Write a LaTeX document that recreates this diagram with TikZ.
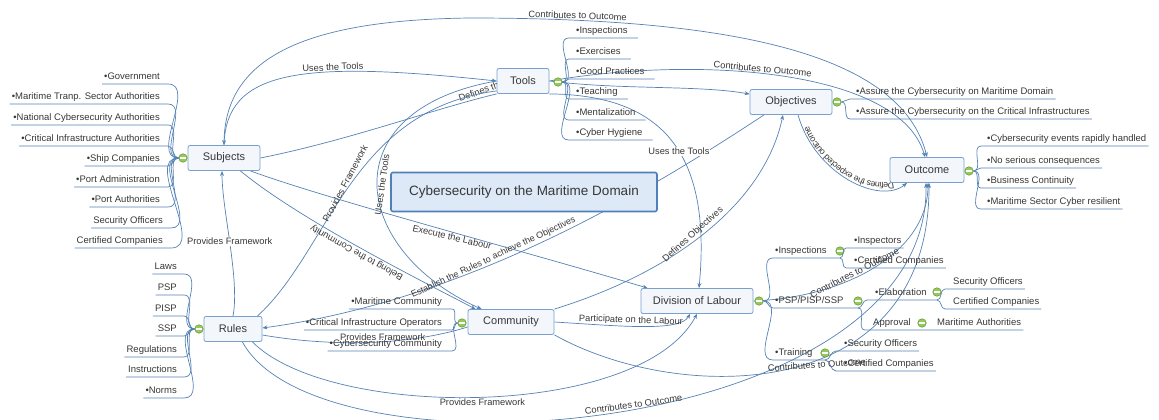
\documentclass[tikz,border=0pt]{standalone}
\usepackage{fontspec}
\setmainfont{Liberation Sans}
\usetikzlibrary{arrows.meta,backgrounds,decorations.text}

\definecolor{linkc}{RGB}{84,130,180}
\definecolor{topicfill}{RGB}{243,247,252}
\definecolor{topicline}{RGB}{120,160,205}
\definecolor{corefill}{RGB}{221,233,246}
\definecolor{coreline}{RGB}{80,128,186}
\definecolor{txt}{RGB}{55,55,55}
\definecolor{foldfill}{RGB}{150,200,90}
\definecolor{foldline}{RGB}{95,150,45}
\newcommand\lblfont{\fontsize{9.3}{11}\selectfont}

\begin{document}
\begin{tikzpicture}[x=1pt, y=-1pt,
  topic/.style={draw=topicline, fill=topicfill, rounded corners=2pt, line width=0.8pt, font=\fontsize{11}{13}\selectfont, text=txt, minimum height=25pt, inner xsep=4pt},
  coretopic/.style={draw=coreline, fill=corefill, rounded corners=2pt, line width=1.6pt, font=\fontsize{13.5}{16}\selectfont, text=txt},
  leaf/.style={font=\fontsize{9.5}{11}\selectfont, text=txt, inner xsep=2pt, inner ysep=2pt, text height=7pt, text depth=2pt},
  fold/.style={circle, draw=foldline, fill=foldfill, minimum size=8.5pt, inner sep=0pt, line width=0.5pt,
    path picture={\draw[white, line width=1.2pt] ([xshift=1.6pt]path picture bounding box.west) -- ([xshift=-1.6pt]path picture bounding box.east);}},
  twig/.style={draw=linkc, line width=0.7pt},
  rel/.style={draw=linkc, line width=0.7pt},
  relarrow/.style={-{Stealth[length=5pt,width=4pt]}},
  relboth/.style={{Stealth[length=5pt,width=4pt]}-{Stealth[length=5pt,width=4pt]}},
  lbl/.style={font=\lblfont, text=txt, inner sep=1pt}]
\useasboundingbox (0,0) rectangle (1159,420);

\node[topic, minimum width=52pt] (tools) at (523,81) {Tools};
\node[topic, minimum width=72pt] (subj) at (224,158) {Subjects};
\node[topic, minimum width=82pt] (obj) at (791,102) {Objectives};
\node[topic, minimum width=74pt] (outc) at (927,170) {Outcome};
\node[topic, minimum width=58pt] (rules) at (233,329) {Rules};
\node[topic, minimum width=86pt] (comm) at (511,322) {Community};
\node[topic, minimum width=112pt] (div) at (697,301) {Division of Labour};
\node[coretopic, minimum width=266pt, minimum height=39pt] (core) at (524,192) {Cybersecurity on the Maritime Domain};

\node[fold] (sf) at (183,158) {};
\node[fold] (rf) at (199,329) {};
\node[fold] (tf) at (558,82) {};
\node[fold] (of) at (837,102) {};
\node[fold] (uf) at (969,171) {};
\node[fold] (cf) at (462,323) {};
\node[fold] (df) at (759,301) {};

\node[leaf, anchor=south east] (s1) at (162,84) {•Government};
\node[leaf, anchor=south east] (s2) at (162,104) {•Maritime Tranp. Sector Authorities};
\node[leaf, anchor=south east] (s3) at (162,125) {•National Cybersecurity Authorities};
\node[leaf, anchor=south east] (s4) at (162,146) {•Critical Infrastructure Authorities};
\node[leaf, anchor=south east] (s5) at (162,166) {•Ship Companies};
\node[leaf, anchor=south east] (s6) at (162,187) {•Port Administration};
\node[leaf, anchor=south east] (s7) at (162,207) {•Port Authorities};
\node[leaf, anchor=south east] (s8) at (165,228) {Security Officers};
\node[leaf, anchor=south east] (s9) at (165,248) {Certified Companies};
\foreach \i in {1,...,9} \draw[twig] (sf.west) to[out=180,in=0] ([xshift=6pt]s\i.south east) -- (s\i.south west);

\node[leaf, anchor=south east] (r1) at (179,274) {Laws};
\node[leaf, anchor=south east] (r2) at (179,295) {PSP};
\node[leaf, anchor=south east] (r3) at (179,316) {PISP};
\node[leaf, anchor=south east] (r4) at (179,336) {SSP};
\node[leaf, anchor=south east] (r5) at (179,357) {Regulations};
\node[leaf, anchor=south east] (r6) at (179,377) {Instructions};
\node[leaf, anchor=south east] (r7) at (179,398) {•Norms};
\foreach \i in {1,...,7} \draw[twig] (rf.west) to[out=180,in=0] ([xshift=5pt]r\i.south east) -- (r\i.south west);

\node[leaf, anchor=south west] (t1) at (574,38) {•Inspections};
\node[leaf, anchor=south west] (t2) at (574,59) {•Exercises};
\node[leaf, anchor=south west] (t3) at (574,79) {•Good Practices};
\node[leaf, anchor=south west] (t4) at (574,99) {•Teaching};
\node[leaf, anchor=south west] (t5) at (574,120) {•Mentalization};
\node[leaf, anchor=south west] (t6) at (574,140) {•Cyber Hygiene};
\foreach \i in {1,...,6} \draw[twig] (tf.east) to[out=0,in=180] ([xshift=-5pt]t\i.south west) -- ([xshift=8pt]t\i.south east);

\node[leaf, anchor=south west] (o1) at (854,99) {•Assure the Cybersecurity on Maritime Domain};
\node[leaf, anchor=south west] (o2) at (854,119) {•Assure the Cybersecurity on the Critical Infrastructures};
\foreach \i in {1,2} \draw[twig] (of.east) to[out=0,in=180] ([xshift=-4pt]o\i.south west) -- (o\i.south east);

\node[leaf, anchor=south west] (u1) at (985,146) {•Cybersecurity events rapidly handled};
\node[leaf, anchor=south west] (u2) at (985,168) {•No serious consequences};
\node[leaf, anchor=south west] (u3) at (985,188) {•Business Continuity};
\node[leaf, anchor=south west] (u4) at (985,209) {•Maritime Sector Cyber resilient};
\foreach \i in {1,...,4} \draw[twig] (uf.east) to[out=0,in=180] ([xshift=-4pt]u\i.south west) -- (u\i.south east);

\node[leaf, anchor=south east] (c1) at (444,309) {•Maritime Community};
\node[leaf, anchor=south east] (c2) at (444,330) {•Critical Infrastructure Operators};
\node[leaf, anchor=south east] (c3) at (444,351) {•Cybersecurity Community};
\foreach \i in {1,2,3} \draw[twig] (cf.west) to[out=180,in=0] ([xshift=8pt]c\i.south east) -- (c\i.south west);

\node[leaf, anchor=south west] (d1) at (773,258) {•Inspections};
\node[leaf, anchor=south west] (d2) at (773,308) {•PSP/PISP/SSP};
\node[leaf, anchor=south west] (d3) at (773,360) {•Training};
\node[fold] (dfi) at (840,251) {};
\node[fold] (dfp) at (858,301) {};
\node[fold] (dft) at (825,353) {};
\node[leaf, anchor=south west] (d11) at (852,248) {•Inspectors};
\node[leaf, anchor=south west] (d12) at (852,268) {•Certified Companies};
\node[leaf, anchor=south west] (d21) at (873,300) {•Elaboration};
\node[leaf, anchor=south west] (d22) at (871,330) {Approval};
\node[fold] (dfe) at (937,292) {};
\node[fold] (dfa) at (922,323) {};
\node[leaf, anchor=south west] (d211) at (951,289) {Security Officers};
\node[leaf, anchor=south west] (d212) at (951,309) {Certified Companies};
\node[leaf, anchor=south west] (d221) at (935,330) {Maritime Authorities};
\node[leaf, anchor=south west] (d31) at (842,351) {•Security Officers};
\node[leaf, anchor=south west] (d32) at (842,371) {•Certified Companies};
\draw[twig] (df.east) to[out=0,in=180] (d1.south west) -- (d1.south west -| dfi.center);
\draw[twig] (df.east) to[out=0,in=180] (d2.south west) -- (d2.south west -| dfp.center);
\draw[twig] (df.east) to[out=0,in=180] (d3.south west) -- (d3.south west -| dft.center);
\draw[twig] (d1.south west -| dfi.center) to[out=0,in=180] ([xshift=-6pt]d11.south west) -- (d11.south east);
\draw[twig] (d1.south west -| dfi.center) to[out=0,in=180] ([xshift=-6pt]d12.south west) -- (d12.south east);
\draw[twig] (d2.south west -| dfp.center) to[out=0,in=180] ([xshift=-6pt]d21.south west) -- (d21.south west -| dfe.center);
\draw[twig] (d2.south west -| dfp.center) to[out=0,in=180] ([xshift=-6pt]d22.south west) -- (d221.south east);
\draw[twig] (d21.south west -| dfe.center) to[out=0,in=180] ([xshift=-6pt]d211.south west) -- (d211.south east);
\draw[twig] (d21.south west -| dfe.center) to[out=0,in=180] ([xshift=-6pt]d212.south west) -- (d212.south east);
\draw[twig] (d3.south west -| dft.center) to[out=0,in=180] ([xshift=-6pt]d31.south west) -- (d31.south east);
\draw[twig] (d3.south west -| dft.center) to[out=0,in=180] ([xshift=-6pt]d32.south west) -- (d32.south east);

\begin{scope}[on background layer]
\draw[rel, relboth] (subj.north) .. controls (225,60) and (300,20) .. (470,18) .. controls (720,18) and (900,50) .. (outc.north) node[lbl, pos=.15, anchor=south, rotate=-2] (l1) {Contributes to Outcome};
\draw[rel, relarrow] (subj.north) .. controls (226,70) and (300,60) .. (tools.west) node[lbl, pos=.65, anchor=south, rotate=3] (l2) {Uses the Tools};
\draw[rel] (subj.east) .. controls (350,140) and (430,110) .. (tools.south west) node[lbl, pos=.82, anchor=south west, rotate=20] (l3) {Defines the Tools};
\draw[rel] ([xshift=-5pt]rules.north east) .. controls (330,250) and (350,110) .. ([yshift=3pt]tools.south west) node[lbl, pos=.5, anchor=south, rotate=62] (l4) {Provides Framework};
\draw[rel, relarrow] (tools.west) .. controls (330,110) and (350,250) .. ([xshift=14pt]comm.north west) node[lbl, pos=.5, anchor=north, rotate=82] (l5) {Uses the Tools};
\draw[rel, relarrow] ([xshift=-20pt]subj.south east) .. controls (300,220) and (420,280) .. ([xshift=8pt]comm.north west) node[lbl, pos=.5, anchor=south, rotate=151] (l6) {Belong to the Community};
\draw[rel, relarrow] ([xshift=-10pt]subj.south east) .. controls (330,200) and (520,250) .. ([xshift=7pt]div.north west) node[lbl, pos=.55, anchor=north, rotate=-13] (l7) {Execute the Labour};
\draw[rel, relarrow] (rules.north) .. controls (240,280) and (222,210) .. ([xshift=-2pt]subj.south) node[lbl, pos=.52, fill=white] (l8) {Provides Framework};
\draw[rel, relarrow] ([xshift=-27pt]obj.south) .. controls (650,190) and (470,300) .. ([yshift=1pt]rules.east) node[lbl, font=\fontsize{9}{11}\selectfont, pos=.6, anchor=south, rotate=25] (l9) {Establish the Rules to achieve the Objectives};
\draw[rel] ([yshift=-6pt]rules.east) .. controls (320,345) and (400,348) .. ([yshift=-5pt]comm.west) node[lbl, pos=.6, anchor=south] (l10) {Provides Framework};
\draw[rel, relarrow] (tools.east) .. controls (620,90) and (700,85) .. ([yshift=-5pt]obj.north west);
\draw[rel, relarrow] (tools.east) .. controls (700,55) and (900,70) .. ([xshift=-2pt]outc.north) node[lbl, pos=.45, anchor=south, rotate=-5] (l11) {Contributes to Outcome};
\draw[rel, relarrow] (tools.south east) .. controls (660,95) and (712,150) .. ([xshift=2pt]div.north) node[lbl, pos=.56, fill=white] (l12) {Uses the Tools};
\draw[rel, relarrow] (comm.north east) .. controls (680,270) and (765,200) .. ([xshift=-8pt]obj.south) node[lbl, pos=.45, anchor=south, rotate=42] (l13) {Defines Objectives};
\draw[rel, relarrow] ([xshift=7pt]obj.south) .. controls (815,175) and (880,205) .. ([xshift=-20pt]outc.south);
\path[decorate, decoration={text along path, text align=center, raise=-8pt, text={|\fontsize{8.8}{10}\selectfont\color{txt}|Defines the expected outcome}}] ([xshift=-18pt]outc.south) .. controls (880,207) and (812,175) .. ([xshift=5pt]obj.south);
\draw[rel, relarrow] (comm.east) .. controls (620,326) and (680,332) .. ([xshift=-7pt]div.south) node[lbl, pos=.42, anchor=south, rotate=-2] (l15) {Participate on the Labour};
\draw[rel, relarrow] ([xshift=-10pt]rules.south east) .. controls (330,420) and (640,420) .. (div.south) node[lbl, pos=.5, anchor=north] (l16) {Provides Framework};
\draw[rel, relarrow] ([xshift=-20pt]rules.south east) .. controls (320,485) and (930,440) .. ([xshift=-1pt]outc.south) node[lbl, pos=.52, anchor=south, rotate=8] (l17) {Contributes to Outcome};
\draw[rel, relarrow] (comm.south east) .. controls (680,405) and (930,405) .. ([xshift=2pt]outc.south) node[lbl, pos=.56, anchor=north, rotate=4] (l18) {Contributes to Outcome};
\draw[rel, relarrow] (div.east) .. controls (850,297) and (928,250) .. ([xshift=1pt]outc.south) node[lbl, pos=.4, anchor=south, rotate=27] (l19) {Contributes to Outcome};
\end{scope}
\end{tikzpicture}
\end{document}
